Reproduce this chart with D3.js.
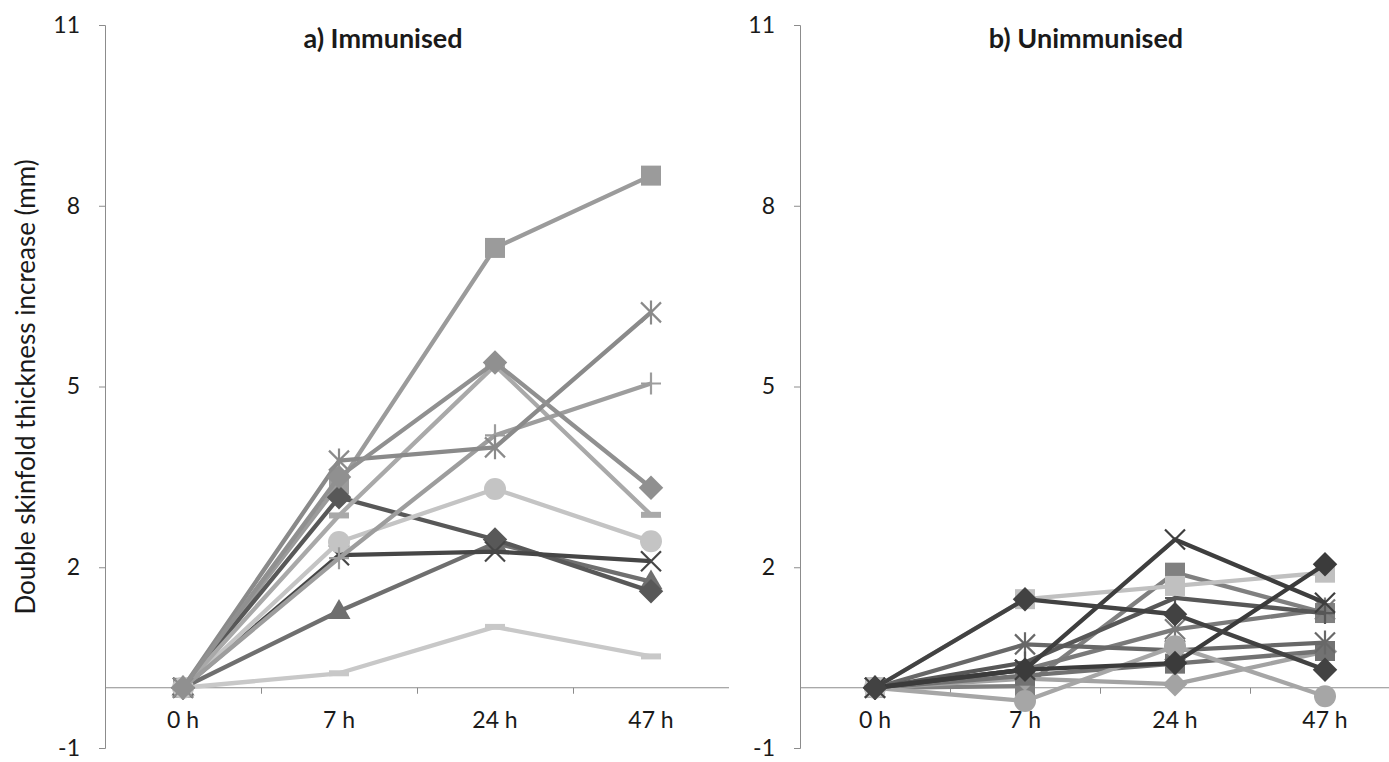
<!DOCTYPE html>
<html>
<head>
<meta charset="utf-8">
<script src="https://cdn.jsdelivr.net/npm/d3@7"></script>
<style>
  body { margin: 0; background: #ffffff; }
  text { font-family: Lato, "Open Sans", sans-serif; fill: #1a1a1a; }
</style>
</head>
<body>
<svg id="chart" width="1389" height="762"></svg>
<script>
// Sampling times (x categories) and y-axis ticks
const categories = ["0 h", "7 h", "24 h", "47 h"];
const yTickValues = [-1, 2, 5, 8, 11];

// a) Immunised: thickness increase per subject at 0, 7, 24, 47 h
const immunisedSeries = [
  [0, 3.38, 7.30, 8.50],
  [0, 0.24, 1.01, 0.52],
  [0, 1.27, 2.40, 1.76],
  [0, 3.16, 2.46, 1.60],
  [0, 2.20, 2.26, 2.10],
  [0, 2.42, 3.30, 2.43],
  [0, 2.86, 5.35, 2.87],
  [0, 2.15, 4.19, 5.05],
  [0, 3.77, 3.99, 6.23],
  [0, 3.50, 5.40, 3.32]
];
const immunisedMarkers = ["square", "dash", "triangle", "diamond", "x", "circle", "dash", "plus", "star", "diamond"];
const immunisedColors = ["#9b9b9b", "#c8c8c8", "#6f6f6f", "#585858", "#464646", "#c4c4c4", "#a9a9a9", "#9d9d9d", "#8a8a8a", "#909090"];

// b) Unimmunised: thickness increase per subject at 0, 7, 24, 47 h
const unimmunisedSeries = [
  [0, 0.03, 1.91, 1.24],
  [0, 0.15, 0.06, 0.60],
  [0, 0.20, 0.40, 0.61],
  [0, 0.30, 0.97, 1.30],
  [0, 0.72, 0.62, 0.75],
  [0, -0.22, 0.69, -0.14],
  [0, 0.42, 1.49, 1.24],
  [0, 1.47, 1.69, 1.91],
  [0, 0.30, 2.46, 1.41],
  [0, 0.30, 0.41, 2.05],
  [0, 1.47, 1.22, 0.30]
];
const unimmunisedMarkers = ["square", "diamond", "square", "star", "star", "circle", "plus", "square", "x", "diamond", "diamond"];
const unimmunisedColors = ["#808080", "#a3a3a3", "#727272", "#7a7a7a", "#686868", "#a6a6a6", "#575757", "#c0c0c0", "#3e3e3e", "#3b3b3b", "#424242"];

const svg = d3.select("#chart");

// Marker shapes (centred on 0,0)
function drawMarker(g, type, color) {
  const s = 10;
  if (type === "square") {
    g.append("rect").attr("x", -10).attr("y", -10).attr("width", 20).attr("height", 20).attr("fill", color);
  } else if (type === "diamond") {
    g.append("path").attr("d", d3.symbol(d3.symbolSquare, 300)()).attr("transform", "rotate(45)").attr("fill", color);
  } else if (type === "triangle") {
    g.append("path").attr("d", d3.symbol(d3.symbolTriangle, 230)()).attr("transform", "translate(0,1)").attr("fill", color);
  } else if (type === "circle") {
    g.append("circle").attr("r", 11).attr("fill", color);
  } else if (type === "dash") {
    g.append("rect").attr("x", -10).attr("y", -3).attr("width", 20).attr("height", 6).attr("fill", color);
  } else {
    const parts = [];
    if (type === "x" || type === "star") parts.push(`M${-s},${-s}L${s},${s}M${-s},${s}L${s},${-s}`);
    if (type === "star") parts.push(`M0,${-s - 2}L0,${s + 2}`);
    if (type === "plus") parts.push(`M${-s},0L${s},0M0,${-s - 1}L0,${s + 1}`);
    g.append("path").attr("d", parts.join("")).attr("fill", "none")
      .attr("stroke", color).attr("stroke-width", 2.2);
  }
}

function drawPanel(opts) {
  const { left, right, top, bottom, title, titleX, series, markers, colors } = opts;
  const y = d3.scaleLinear().domain([-1, 11]).range([bottom, top]);
  const x = d3.scaleBand().domain(categories).range([left, right]).paddingInner(0).paddingOuter(0);
  const g = svg.append("g");

  // Vertical axis with outward ticks
  const yAxis = d3.axisLeft(y).tickValues(yTickValues).tickSize(6).tickPadding(19)
    .tickFormat(d => String(d));
  const ya = g.append("g").attr("transform", `translate(${left},0)`).call(yAxis);
  ya.select(".domain").attr("stroke", "#8c8c8c");
  ya.selectAll(".tick line").attr("stroke", "#8c8c8c");
  ya.selectAll(".tick text").attr("font-size", 23).attr("font-family", "Lato, 'Open Sans', sans-serif").attr("fill", "#1a1a1a");

  // Horizontal category axis at zero, ticks between categories
  const y0 = y(0);
  g.append("line").attr("x1", left).attr("x2", right).attr("y1", y0).attr("y2", y0)
    .attr("stroke", "#8c8c8c").attr("stroke-width", 1);
  categories.slice(1).forEach(c => {
    const tx = Math.round(x(c)) + 0.5;
    g.append("line").attr("x1", tx).attr("x2", tx).attr("y1", y0).attr("y2", y0 + 6)
      .attr("stroke", "#8c8c8c");
  });
  g.selectAll(".xlab").data(categories).enter().append("text")
    .attr("x", d => x(d) + x.bandwidth() / 2)
    .attr("y", 728)
    .attr("text-anchor", "middle")
    .attr("font-size", 23)
    .text(d => d);

  // Panel title
  g.append("text").attr("x", titleX).attr("y", 48).attr("text-anchor", "middle")
    .attr("font-size", 27).attr("font-weight", "bold").text(title);

  const cx = d => x(d) + x.bandwidth() / 2;
  const line = d3.line().x((v, i) => cx(categories[i])).y(v => y(v));

  series.forEach((vals, k) => {
    const sg = g.append("g");
    sg.append("path").attr("d", line(vals)).attr("fill", "none")
      .attr("stroke", colors[k]).attr("stroke-width", 4.3).attr("stroke-linejoin", "round");
    vals.forEach((v, i) => {
      const mg = sg.append("g").attr("transform", `translate(${cx(categories[i])},${y(v)})`);
      drawMarker(mg, markers[k], colors[k]);
    });
  });
}

drawPanel({
  left: 105, right: 729, top: 25, bottom: 748,
  title: "a) Immunised", titleX: 383,
  series: immunisedSeries, markers: immunisedMarkers, colors: immunisedColors
});

drawPanel({
  left: 800, right: 1400, top: 25, bottom: 748,
  title: "b) Unimmunised", titleX: 1086,
  series: unimmunisedSeries, markers: unimmunisedMarkers, colors: unimmunisedColors
});

// Shared y-axis title
svg.append("text")
  .attr("transform", "translate(35,387) rotate(-90)")
  .attr("text-anchor", "middle")
  .attr("font-size", 26)
  .text("Double skinfold thickness increase (mm)");
</script>
</body>
</html>
